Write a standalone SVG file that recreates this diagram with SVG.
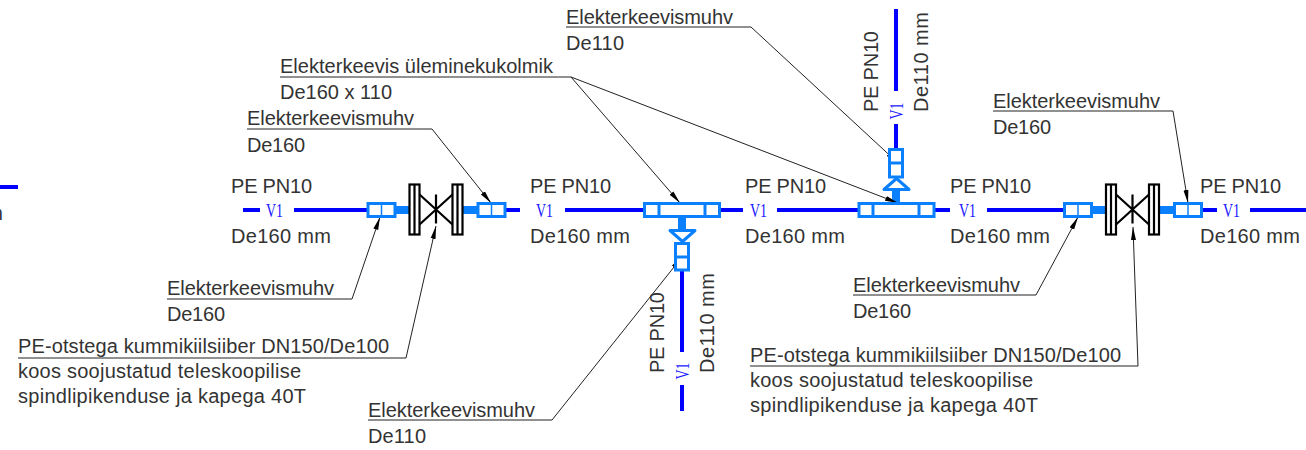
<svg xmlns="http://www.w3.org/2000/svg" width="1306" height="450" viewBox="0 0 1306 450">
<style>
text{font-family:"Liberation Sans",Arial,sans-serif;font-size:20px;fill:#333}
.v{font-family:"Liberation Serif","Times New Roman",serif;font-size:19px;fill:#1a1aff}
.p{stroke:#0000ff;stroke-width:4;fill:none}
.t{stroke:#0a80ff;stroke-width:8;fill:none}
.c{stroke:#0a80ff;stroke-width:3;fill:#fff}
.k{stroke:#000;stroke-width:2.2;fill:#fff}
.x{stroke:#000;stroke-width:2.2;fill:none}
.l{stroke:#222;stroke-width:1;fill:none;marker-end:url(#a)}
</style>
<defs>
<marker id="a" markerUnits="userSpaceOnUse" markerWidth="14" markerHeight="8" refX="13" refY="4" orient="auto"><path d="M0 1.500 L13 4 L0 6.500 Z" fill="#000"/></marker>
<g id="cp"><rect class="c" x="-13.500" y="-6.500" width="27" height="13"/><path d="M0 -7V7" stroke="#0a80ff" stroke-width="1.500"/></g>
<g id="vv"><rect class="k" x="-26.500" y="-25" width="10" height="50"/><rect class="k" x="16.500" y="-25" width="10" height="50"/><path class="x" d="M-21.500 -25V25M21.500 -25V25M-16.500 -15L16.500 15M-16.500 15L16.500 -15M0 -15V14"/></g>
</defs>
<g id="connectors">
<path class="p" d="M0 187H18M243 210H260M294 210H367M505 210H520M565 210H645M720 210H743M777 210H860M933 210H950M987 210H1064M1201 210H1217M1250 210H1306M682 270V352M682 385V411M896 9V91M896 124V149"/>
<path class="t" d="M396 210H411M463 210H478M1092 210H1107M1158 210H1175M682 217V231M896 190V203"/>
<path class="l" d="M751 27L898 163"/>
<path class="l" d="M571 77L680 203"/>
<path class="l" d="M571 77L898 203"/>
<path class="l" d="M432 129L491 203"/>
<path class="l" d="M352 299L380 217"/>
<path class="l" d="M406 358L436 226"/>
<path class="l" d="M552 420L682 257"/>
<path class="l" d="M1173 111L1188 203"/>
<path class="l" d="M1036 295L1078 217"/>
<path class="l" d="M1138 366L1133 227"/>
<path stroke="#222" fill="none" d="M566 27H751M280 77H571M247 129H432M167 299H352M18 358H406M368 420H552M993 111H1173M853 295H1036M750 366H1138"/>
</g>
<g id="coupling-1"><use href="#cp" x="381.500" y="210"/></g>
<g id="valve-1"><use href="#vv" x="436" y="209.500"/></g>
<g id="coupling-2"><use href="#cp" x="491.500" y="210"/></g>
<g id="reducer-1"><rect class="c" x="644.500" y="203.500" width="75" height="13"/><path class="c" d="M659 202V218M705 202V218"/><path class="c" stroke-width="2.500" stroke-linejoin="round" d="M670 230.500H695L682.500 241.500Z"/><rect class="c" x="675.500" y="243.500" width="13" height="26.500"/><path class="c" d="M675 257H689"/></g>
<g id="reducer-2"><rect class="c" x="859" y="203.500" width="75" height="13"/><path class="c" d="M873 202V218M919 202V218"/><path class="c" stroke-width="2.500" stroke-linejoin="round" d="M884 189.500H909L896.500 178.500Z"/><rect class="c" x="889.500" y="149.500" width="13" height="27.500"/><path class="c" d="M889 163H903"/></g>
<g id="coupling-3"><use href="#cp" x="1078" y="210"/></g>
<g id="valve-2"><use href="#vv" x="1132.500" y="209.500"/></g>
<g id="coupling-4"><use href="#cp" x="1188" y="210"/></g>
<g id="pipe-labels">
<text x="231" y="193" textLength="81">PE PN10</text><text x="231" y="243" textLength="100">De160 mm</text>
<text x="530" y="193" textLength="81">PE PN10</text><text x="530" y="243" textLength="100">De160 mm</text>
<text x="745" y="193" textLength="81">PE PN10</text><text x="745" y="243" textLength="100">De160 mm</text>
<text x="950" y="193" textLength="81">PE PN10</text><text x="950" y="243" textLength="100">De160 mm</text>
<text x="1200" y="193" textLength="81">PE PN10</text><text x="1200" y="243" textLength="100">De160 mm</text>
<text x="3" y="220" text-anchor="end">m</text>
<text class="v" x="266" y="216.500" textLength="17" lengthAdjust="spacingAndGlyphs">V1</text><text class="v" x="536" y="216.500" textLength="17" lengthAdjust="spacingAndGlyphs">V1</text><text class="v" x="750" y="216.500" textLength="17" lengthAdjust="spacingAndGlyphs">V1</text><text class="v" x="959" y="216.500" textLength="17" lengthAdjust="spacingAndGlyphs">V1</text><text class="v" x="1223" y="216.500" textLength="17" lengthAdjust="spacingAndGlyphs">V1</text>
<text transform="translate(664 373) rotate(-90)" textLength="81">PE PN10</text><text transform="translate(714 373) rotate(-90)" textLength="100">De110 mm</text><text class="v" transform="translate(689 379.500) rotate(-90)" textLength="17" lengthAdjust="spacingAndGlyphs">V1</text>
<text transform="translate(878 112) rotate(-90)" textLength="81">PE PN10</text><text transform="translate(928 112) rotate(-90)" textLength="100">De110 mm</text><text class="v" transform="translate(903 119.500) rotate(-90)" textLength="17" lengthAdjust="spacingAndGlyphs">V1</text>
</g>
<g id="callouts">
<text x="566" y="24" textLength="167">Elekterkeevismuhv</text><text x="566" y="50" textLength="58">De110</text>
<text x="280" y="73" textLength="273">Elekterkeevis üleminekukolmik</text><text x="280" y="99" textLength="112">De160 x 110</text>
<text x="247" y="125" textLength="167">Elekterkeevismuhv</text><text x="247" y="152" textLength="58">De160</text>
<text x="167" y="295" textLength="167">Elekterkeevismuhv</text><text x="167" y="321" textLength="58">De160</text>
<text x="18" y="353" textLength="371">PE-otstega kummikiilsiiber DN150/De100</text><text x="18" y="378" textLength="283">koos soojustatud teleskoopilise</text><text x="18" y="403" textLength="288">spindlipikenduse ja kapega 40T</text>
<text x="368" y="417" textLength="167">Elekterkeevismuhv</text><text x="368" y="443" textLength="58">De110</text>
<text x="993" y="108" textLength="167">Elekterkeevismuhv</text><text x="993" y="134" textLength="58">De160</text>
<text x="853" y="292" textLength="167">Elekterkeevismuhv</text><text x="853" y="318" textLength="58">De160</text>
<text x="750" y="362" textLength="371">PE-otstega kummikiilsiiber DN150/De100</text><text x="750" y="387" textLength="283">koos soojustatud teleskoopilise</text><text x="750" y="412" textLength="288">spindlipikenduse ja kapega 40T</text>
</g>
</svg>
